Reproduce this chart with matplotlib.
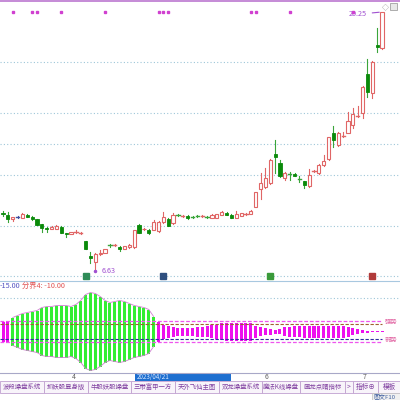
import matplotlib
matplotlib.use("Agg")
import matplotlib.pyplot as plt
from matplotlib.patches import Rectangle
import numpy as np

plt.rcParams['font.family'] = ['Noto Sans CJK SC', 'DejaVu Sans']

# ---- data ----
opens = [9.68, 9.57, 9.36, 9.47, 9.41, 9.57, 9.47, 9.36, 9.10, 8.89,
         8.84, 8.84, 8.94, 8.63, 8.58, 8.66, 8.62, 8.21, 7.42, 7.10,
         7.50, 7.57, 8.00, 7.97, 7.89, 7.78, 7.89, 7.89, 9.05, 8.82,
         8.78, 8.78, 8.73, 9.20, 9.36, 9.15, 9.58, 9.51, 9.52, 9.48,
         9.53, 9.51, 9.48, 9.41, 9.41, 9.57, 9.68, 9.57, 9.41, 9.52,
         9.62, 9.63, 9.99, 10.94, 11.05, 11.26, 12.78, 12.31, 11.52, 11.74,
         11.73, 11.48, 11.36, 11.10, 11.88, 11.78, 12.20, 12.52, 13.89, 13.25,
         13.72, 13.89, 14.31, 14.77, 14.94, 16.99, 15.99, 18.52, 18.36]
highs = [9.78, 9.73, 9.47, 9.52, 9.68, 9.60, 9.50, 9.38, 9.12, 8.92,
         8.97, 9.05, 8.97, 8.65, 8.70, 8.78, 8.70, 8.22, 7.63, 7.55,
         7.73, 7.80, 8.02, 8.02, 7.92, 7.96, 8.02, 8.80, 9.10, 8.89,
         8.81, 9.31, 9.25, 9.73, 9.40, 9.68, 9.62, 9.56, 9.55, 9.52,
         9.56, 9.56, 9.50, 9.60, 9.65, 9.76, 9.72, 9.60, 9.78, 9.70,
         9.68, 9.82, 10.80, 11.78, 12.04, 12.50, 13.52, 12.47, 11.85, 11.83,
         11.76, 11.62, 11.38, 11.99, 11.95, 12.25, 12.73, 13.70, 14.25, 13.92,
         13.94, 14.99, 15.20, 15.31, 16.35, 17.78, 17.65, 19.41, 20.25]
lows = [9.52, 9.20, 9.26, 9.41, 9.41, 9.45, 9.33, 9.02, 8.68, 8.68,
        8.82, 8.82, 8.60, 8.41, 8.55, 8.60, 8.55, 7.76, 7.05, 6.63,
        7.47, 7.55, 7.90, 7.92, 7.70, 7.76, 7.86, 7.86, 8.60, 8.78,
        8.55, 8.76, 8.70, 9.15, 8.97, 9.12, 9.50, 9.48, 9.38, 9.42,
        9.47, 9.48, 9.40, 9.39, 9.39, 9.55, 9.55, 9.39, 9.39, 9.50,
        9.58, 9.60, 9.97, 10.41, 11.00, 11.22, 11.78, 11.57, 11.40, 11.41,
        11.60, 11.31, 10.99, 11.07, 11.83, 11.75, 12.17, 12.45, 13.15, 13.20,
        13.65, 13.86, 14.15, 14.70, 14.67, 15.78, 15.73, 18.15, 18.30]
closes = [9.63, 9.36, 9.47, 9.47, 9.63, 9.47, 9.36, 9.05, 8.89, 8.84,
          8.94, 9.00, 8.63, 8.58, 8.68, 8.68, 8.64, 7.79, 7.31, 7.52,
          7.58, 7.78, 7.98, 7.99, 7.78, 7.94, 7.99, 8.78, 8.63, 8.86,
          8.63, 9.20, 9.20, 9.47, 8.99, 9.57, 9.56, 9.53, 9.41, 9.46,
          9.51, 9.53, 9.46, 9.57, 9.63, 9.73, 9.57, 9.41, 9.63, 9.68,
          9.64, 9.78, 10.78, 11.26, 11.52, 12.47, 12.62, 11.62, 11.78, 11.72,
          11.62, 11.46, 11.15, 11.68, 11.90, 12.20, 12.41, 13.68, 13.52, 13.89,
          13.74, 14.52, 14.88, 14.79, 16.31, 16.04, 17.62, 18.41, 20.25]

grid_prices = [17.62, 14.94, 13.31, 11.68, 9.00, 6.36]
signal_idx = [2, 6, 7, 12, 21, 32, 33, 34, 51, 52, 59, 72]
icon_idx = [17, 33, 55, 76]
icon_colors = ['#2e8b57', '#2f4f7f', '#3a9a3a', '#b03a3a']

osc = [10, 11, 14, 16, 18, 19, 20, 21, 24, 25,
       25, 26, 26, 26, 25, 27, 31, 37, 39, 38,
       35, 31, 29, 30, 31, 30, 28, 26, 25, 24,
       22, 15, 10, 7, 6, 5, 4, 4, 4, 4,
       5, 5, 5.5, 6.5, 7, 8.5, 9, 9, 9, 9,
       9, 9, 6, 4.5, 3.5, 3, 2, 2.5, 4.5, 5,
       5.5, 5.5, 6, 6, 6, 6, 6, 6, 6, 6,
       6, 5, 3.5, 2.5, 1.5, 1, 0.6, 0.5, 0.5]
osc_green = list(range(2, 32))
levels_pink = [10.5, -10.5]
level_brown = 7.5
level_blue = -7.0

tabs = ["波段操盘系统", "抓妖股显身版", "牛股妖股操盘", "三带富甲一方", "天外飞仙主图",
        "双龙操盘系统", "魔法K线操盘", "画龙点睛指标", ">", "指标⊕", "模板"]
tab_edges = [0, 44, 88, 131, 175, 219, 262, 300, 345, 353, 378, 400]
month_labels = ["4", "6", "7"]
month_pos = [14.2, 53.9, 74.1]

# ---- figure ----
W, H = 400, 400
fig = plt.figure(figsize=(4, 4), dpi=100)
fig.patch.set_facecolor('white')

def px(x0, y0, x1, y1):
    return [x0 / W, 1 - y1 / H, (x1 - x0) / W, (y1 - y0) / H]

n = len(opens)
xlim = (-0.62, 81.7)

# main price axes
ax = fig.add_axes(px(0, 0, 400, 281))
ax.set_xlim(*xlim)
ax.set_ylim(6.10, 20.88)
ax.axis('off')
for g in grid_prices:
    ax.axhline(g, color='#9ec6d8', lw=0.8, ls=(0, (1, 2)), zorder=0)
ax.axhline(20.83, color='#c58ad6', lw=1.4)

red = '#e06666'
green_body = '#0a8a0a'
green_wick = '#3aa53a'
bw = 0.66
for i in range(n):
    o, h, l, c = opens[i], highs[i], lows[i], closes[i]
    if abs(c - o) < 0.03:
        col = red if c >= o else green_wick
        if i == 3:
            col = '#4050a0'
        ax.plot([i, i], [l, h], color=col, lw=0.8, zorder=2)
        ax.plot([i - bw / 2, i + bw / 2], [c, c], color=col, lw=1.0, zorder=3)
    elif c > o:
        ax.plot([i, i], [c, h], color=red, lw=0.8, zorder=2)
        ax.plot([i, i], [l, o], color=red, lw=0.8, zorder=2)
        ax.add_patch(Rectangle((i - bw / 2, o), bw, c - o, facecolor='white',
                               edgecolor=red, lw=0.8, zorder=3))
    else:
        ax.plot([i, i], [l, h], color=green_wick, lw=0.8, zorder=2)
        ax.add_patch(Rectangle((i - bw / 2, c), bw, o - c, facecolor=green_body,
                               edgecolor=green_body, lw=0.6, zorder=3))

for s in signal_idx:
    ax.plot(s, 20.25, marker='s', ms=1.6, color='#d040d0', mec='#d040d0', zorder=4)

imax = int(np.argmax(highs))
imin = int(np.argmin(lows))
ax.annotate(f"{highs[imax]:.2f}", xy=(imax, highs[imax]), xytext=(imax - 5.0, highs[imax] - 0.12),
            fontsize=5.2, color='#a050d0', va='center', ha='center',
            arrowprops=dict(arrowstyle='-', color='#a050d0', lw=0.8))
ax.annotate(f"{lows[imin]:.2f}", xy=(imin, lows[imin]), xytext=(imin + 1.3, lows[imin]),
            fontsize=5.2, color='#a050d0', va='center', ha='left',
            arrowprops=dict(arrowstyle='-', color='#a050d0', lw=0.8))
ax.plot(imin, lows[imin], marker='o', ms=1.5, color='#a050d0')

for k, ci in zip(icon_idx, icon_colors):
    ax.plot(k, 6.36, marker='s', ms=4.2, color=ci, mec=ci, zorder=5)

fig.text(385 / W, 1 - 7 / H, "◇", fontsize=5, color='#888888', ha='center', va='center')
fig.add_artist(Rectangle((390 / W, 1 - 10 / H), 7 / W, 7 / H, facecolor='#e8e8e8',
                         edgecolor='#909090', lw=0.5))

# separator line
fig.add_artist(plt.Line2D([0, 1], [1 - 281 / H, 1 - 281 / H], color='#a8c8e0', lw=0.8))
fig.text(0 / W, 1 - 286 / H, "-15.00", fontsize=5.2, color='#5050c0', va='center', ha='left')
fig.text(22 / W, 1 - 286 / H, "分界4: -10.00", fontsize=5.2, color='#e05050', va='center', ha='left')

# lower oscillator axes
ax2 = fig.add_axes(px(0, 281, 400, 373))
ax2.set_xlim(*xlim)
ax2.set_ylim(-41.5, 50.5)
ax2.axis('off')
ax2.axhline(33.5, color='#9ec6d8', lw=0.8, ls=(0, (1, 2)), zorder=0)

xs = np.arange(n)
oscv = np.array(osc, dtype=float)
cols = ['#33ee33' if i in osc_green else '#ee10ee' for i in range(n)]
ax2.bar(xs, 2 * oscv, bottom=-oscv, width=0.62, color=cols, zorder=2)
g0, g1 = osc_green[0], osc_green[-1]
gx = np.arange(g0, g1 + 1)
ax2.plot(gx, oscv[g0:g1 + 1], color='#d080d0', lw=0.6, zorder=3)
ax2.plot(gx, -oscv[g0:g1 + 1], color='#d080d0', lw=0.6, zorder=3)
for lv in levels_pink:
    ax2.axhline(lv, xmax=0.955, color='#ee55ee', lw=0.9, ls=(0, (3, 1.5)), zorder=4)
ax2.axhline(level_brown, xmax=0.955, color='#a06030', lw=0.8, ls=(0, (3, 1.5)), zorder=4)
ax2.axhline(level_blue, xmax=0.955, color='#3030a0', lw=0.8, ls=(0, (3, 1.5)), zorder=4)
fig.text(385 / W, 1 - 322 / H, "强势", fontsize=4.6, color='#e060a0', va='center', ha='left')
fig.text(385 / W, 1 - 340 / H, "弱势", fontsize=4.6, color='#e060a0', va='center', ha='left')

# bottom axis line and labels
fig.add_artist(plt.Line2D([0, 1], [1 - 373 / H, 1 - 373 / H], color='#a8a8c8', lw=0.8))
fig.add_artist(Rectangle((135 / W, 1 - 381 / H), 96 / W, 8 / H, facecolor='#1e6fd0', edgecolor='none'))
fig.text(137 / W, 1 - 377 / H, "2023/04/21", fontsize=4.5, color='#d8e8ff', va='center', ha='left')
for lab, mp in zip(month_labels, month_pos):
    xp = (3 + 4.86 * mp) / W
    fig.text(xp, 1 - 377 / H, lab, fontsize=5, color='#606060', va='center', ha='left')

# tabs
ty0, ty1 = 381, 393
for t, a, b in zip(tabs, tab_edges[:-1], tab_edges[1:]):
    fig.add_artist(Rectangle((a / W, 1 - ty1 / H), (b - a) / W, (ty1 - ty0) / H,
                             facecolor='#f8f4fa', edgecolor='#c0a0d0', lw=0.6))
    fs = 4.6 if len(t) >= 6 else 4.8
    fig.text((a + b) / 2 / W, 1 - (ty0 + ty1) / 2 / H, t, fontsize=fs, color='#8040a0',
             ha='center', va='center')
fig.add_artist(Rectangle((372 / W, 0), 28 / W, 7 / H, facecolor='#f0f0f0', edgecolor='#c0c0c0', lw=0.5))
fig.text(374 / W, 3.5 / H, "图文F10", fontsize=4.3, color='#4060a0', va='center', ha='left')

fig.savefig("out.png", dpi=100, facecolor='white')
